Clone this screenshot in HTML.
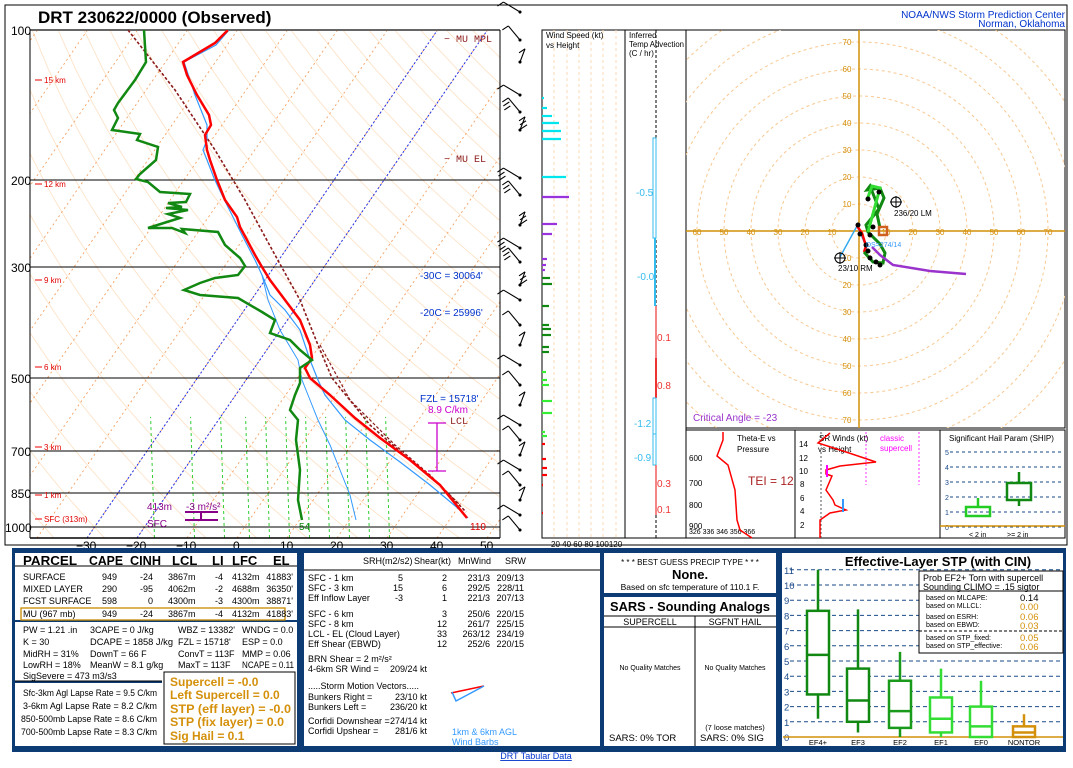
<!DOCTYPE html>
<html><head><meta charset="utf-8">
<style>
html,body{margin:0;padding:0;background:#fff;}
svg{display:block;font-family:"Liberation Sans",sans-serif;}
</style></head><body>
<svg id="s" width="1073" height="768" viewBox="0 0 1073 768" xmlns="http://www.w3.org/2000/svg">
<rect width="1073" height="768" fill="#fff"/>
<defs>
<clipPath id="cp"><rect x="30" y="30" width="470" height="508"/></clipPath>
<clipPath id="ch"><rect x="686" y="30" width="379" height="398"/></clipPath>
</defs>
<rect x="5" y="5" width="1062" height="540" fill="none" stroke="#000" stroke-width="1"/>
<g id="grid" clip-path="url(#cp)"></g>
<g stroke="#000" stroke-width="1">
<line x1="30" y1="30" x2="500" y2="30" stroke="#666" stroke-width="2"/>
<line x1="30" y1="180" x2="500" y2="180"/>
<line x1="30" y1="267" x2="500" y2="267"/>
<line x1="30" y1="378" x2="500" y2="378"/>
<line x1="30" y1="451" x2="500" y2="451"/>
<line x1="30" y1="493" x2="500" y2="493"/>
<line x1="30" y1="527" x2="500" y2="527"/>
<line x1="30" y1="30" x2="30" y2="538"/>
<line x1="500" y1="30" x2="500" y2="538"/>
<line x1="30" y1="538" x2="500" y2="538" stroke-width="1.5"/>
</g>
<g font-size="12" fill="#000">
<text x="11" y="35">100</text><text x="11" y="185">200</text><text x="11" y="272">300</text>
<text x="11" y="383">500</text><text x="11" y="456">700</text><text x="11" y="498">850</text>
<text x="5" y="532">1000</text>
<text x="76" y="550">−30</text><text x="126" y="550">−20</text><text x="176" y="550">−10</text>
<text x="233" y="550">0</text><text x="280" y="550">10</text><text x="330" y="550">20</text>
<text x="380" y="550">30</text><text x="430" y="550">40</text><text x="480" y="550">50</text>
</g>
<text x="38" y="23" font-size="17" font-weight="bold">DRT   230622/0000  (Observed)</text>
<text x="1065" y="18" font-size="10" fill="#0033cc" text-anchor="end">NOAA/NWS Storm Prediction Center</text>
<text x="1065" y="27" font-size="10" fill="#0033cc" text-anchor="end">Norman, Oklahoma</text>
<g font-size="8" fill="#e00000">
<line x1="35" y1="80" x2="42" y2="80" stroke="#e00"/><text x="44" y="83">15 km</text>
<line x1="35" y1="184" x2="42" y2="184" stroke="#e00"/><text x="44" y="187">12 km</text>
<line x1="35" y1="280" x2="42" y2="280" stroke="#e00"/><text x="44" y="283">9 km</text>
<line x1="35" y1="367" x2="42" y2="367" stroke="#e00"/><text x="44" y="370">6 km</text>
<line x1="35" y1="447" x2="42" y2="447" stroke="#e00"/><text x="44" y="450">3 km</text>
<line x1="35" y1="495" x2="42" y2="495" stroke="#e00"/><text x="44" y="498">1 km</text>
<line x1="35" y1="519" x2="42" y2="519" stroke="#e00"/><text x="44" y="522">SFC (313m)</text>
</g>
<g clip-path="url(#cp)">
<polyline fill="none" stroke="#8b1a1a" stroke-width="1.6" stroke-dasharray="3,2" points="128,30 175,90 215,150 245,200 275,255 300,300 318,345 332,378 370,425 410,460 440,485 466,512"/>
<polyline fill="none" stroke="#8b1a1a" stroke-width="1.2" stroke-dasharray="3,2" points="320,345 350,400 395,445 430,475 460,505"/>
<polyline fill="none" stroke="#3399ff" stroke-width="1.2" points="229,30 216,45 184,62 195,95 207,125 207,140 203,150 207,160 214,178 222,195 232,215 242,235 255,260 262,275 270,295 285,310 300,330 305,345 310,360 318,380 325,395 345,420 370,440 400,462 430,485 460,510 468,518"/>
<polyline fill="none" stroke="#3399ff" stroke-width="1" points="262,275 268,300 280,330 298,360 302,380 310,400 318,420 330,445 340,470 350,495 356,520"/>
<polyline fill="none" stroke="#ff0000" stroke-width="2.5" points="228,30 215,43 183,62 187,75 197,95 209,115 211,125 205,135 207,150 210,160 217,180 225,200 237,217 240,227 247,240 255,255 262,267 270,280 285,300 300,320 310,345 312,358 305,368 310,378 330,395 355,418 380,438 410,460 440,485 467,518"/>
<polyline fill="none" stroke="#118811" stroke-width="2.5" points="144,30 146,62 135,80 118,103 114,110 118,118 112,130 140,134 137,140 158,147 156,160 140,174 136,179 148,182 160,192 190,194 186,202 168,203 182,207 166,208 188,210 168,214 180,218 167,222 148,228 172,228 185,233 182,229 218,232 225,245 240,258 245,266 238,275 215,278 200,283 184,290 200,295 238,298 262,312 275,320 270,333 290,340 300,350 312,360 300,368 300,383 295,395 290,410 298,420 296,440 300,470 298,500 302,520"/>
</g>
<g font-size="10" fill="#0033cc">
<text x="420" y="279">-30C = 30064'</text>
<text x="420" y="316">-20C = 25996'</text>
<text x="420" y="402">FZL = 15718'</text>
</g>
<text x="428" y="413" font-size="10" fill="#cc00cc">8.9 C/km</text>
<g stroke="#cc00cc" stroke-width="1.3"><line x1="428" y1="423" x2="446" y2="423"/><line x1="437" y1="423" x2="437" y2="471"/><line x1="428" y1="471" x2="446" y2="471"/></g>
<g font-size="10" fill="#8b1a1a" font-family="Liberation Mono,monospace">
<text x="444" y="42">− MU MPL</text><text x="444" y="162">− MU EL</text><text x="450" y="424">LCL</text>
</g>
<text x="147" y="510" font-size="10" fill="#880088">413m</text>
<text x="186" y="510" font-size="10" fill="#880088">-3 m²/s²</text>
<g stroke="#880088" stroke-width="2"><line x1="185" y1="512" x2="218" y2="512"/><line x1="201" y1="512" x2="201" y2="520"/><line x1="185" y1="520" x2="218" y2="520"/></g>
<text x="147" y="527" font-size="10" fill="#880088">SFC</text>
<text x="299" y="530" font-size="10" fill="#118811">54</text>
<text x="470" y="530" font-size="10" fill="#e00000">110</text>
<g id="barbs" stroke="#000" stroke-width="1.1" fill="none"></g>
<rect x="542" y="30" width="83" height="508" fill="none" stroke="#000"/>
<g stroke="#fbd9b5" stroke-dasharray="3,3"><line x1="554" y1="30" x2="554" y2="538"/><line x1="567" y1="30" x2="567" y2="538"/><line x1="579" y1="30" x2="579" y2="538"/><line x1="591" y1="30" x2="591" y2="538"/><line x1="603" y1="30" x2="603" y2="538"/><line x1="616" y1="30" x2="616" y2="538"/></g>
<text x="546" y="38" font-size="8">Wind Speed (kt)</text><text x="546" y="48" font-size="8">vs Height</text>
<text x="551" y="547" font-size="8">20 40 60 80 100120</text>
<g id="bars" stroke-width="2.2"></g>
<rect x="625" y="30" width="61" height="508" fill="none" stroke="#000"/>
<line x1="656" y1="30" x2="656" y2="538" stroke="#000" stroke-dasharray="3,2"/>
<text x="629" y="38" font-size="8">Inferred</text><text x="629" y="47" font-size="8" textLength="55" lengthAdjust="spacingAndGlyphs">Temp Advection</text><text x="629" y="56" font-size="8">(C / hr)</text>
<rect x="653" y="138" width="3" height="100" fill="none" stroke="#33bbee"/>
<line x1="655" y1="238" x2="655" y2="306" stroke="#33bbee" stroke-width="2"/>
<line x1="656" y1="306" x2="656" y2="358" stroke="#e33" stroke-width="1.2"/>
<line x1="656" y1="358" x2="656" y2="398" stroke="#e33" stroke-width="2"/>
<rect x="653" y="398" width="3" height="36" fill="none" stroke="#33bbee"/>
<rect x="653" y="434" width="3" height="31" fill="none" stroke="#33bbee"/>
<line x1="656" y1="465" x2="656" y2="515" stroke="#e33" stroke-width="1.2"/>
<g font-size="10" fill="#33bbee"><text x="636" y="196">-0.5</text><text x="637" y="280">-0.0</text><text x="634" y="427">-1.2</text><text x="634" y="461">-0.9</text></g>
<g font-size="10" fill="#e33"><text x="657" y="341">0.1</text><text x="657" y="389">0.8</text><text x="657" y="487">0.3</text><text x="657" y="513">0.1</text></g>
<rect x="686" y="30" width="379" height="398" fill="none" stroke="#000"/>
<g id="hodo" clip-path="url(#ch)"></g>
<text x="693" y="421" font-size="10" fill="#9933cc">Critical Angle = -23</text>
<rect x="686" y="430" width="109" height="108" fill="none" stroke="#000"/>
<rect x="795" y="430" width="145" height="108" fill="none" stroke="#000"/>
<rect x="940" y="430" width="125" height="108" fill="none" stroke="#000"/>
<g font-size="8"><text x="737" y="441">Theta-E vs</text><text x="737" y="452">Pressure</text>
<text x="819" y="441">SR Winds (kt)</text><text x="818" y="452">vs Height</text>
<text x="949" y="441">Significant Hail Param (SHIP)</text>
<text x="689" y="461">600</text><text x="689" y="486">700</text><text x="689" y="508">800</text><text x="689" y="529">900</text>
<text x="689" y="534" font-size="7">326    336    346    356    366</text>
<text x="799" y="447">14</text><text x="799" y="461">12</text><text x="799" y="474">10</text><text x="800" y="487">8</text><text x="800" y="501">6</text><text x="800" y="514">4</text><text x="800" y="528">2</text></g>
<text x="748" y="485" font-size="12" fill="#aa2222">TEI = 12</text>
<text x="880" y="441" font-size="8" fill="#ff00ff">classic</text><text x="880" y="451" font-size="8" fill="#ff00ff">supercell</text>
<g stroke="#ff33ff" stroke-dasharray="2,2"><line x1="866" y1="432" x2="866" y2="485"/><line x1="919" y1="432" x2="919" y2="485"/></g>
<line x1="821" y1="432" x2="821" y2="538" stroke="#555" stroke-dasharray="2,2"/>
<polyline fill="none" stroke="#f00" stroke-width="1.5" points="723,432 723,440 717,456 728,465 735,490 737,520 740,530 752,538"/>
<polyline fill="none" stroke="#f00" stroke-width="1.5" points="830,433 818,443 840,450 876,462 840,466 826,470 826,474 832,476 826,490 833,500 835,505 846,510 830,513 820,520 820,538"/>
<line x1="827" y1="465" x2="827" y2="477" stroke="#ff00ff" stroke-width="2"/>
<line x1="843" y1="499" x2="843" y2="512" stroke="#3399ff" stroke-width="2"/>
<g stroke="#1a4a8a" stroke-dasharray="3,3"><line x1="950" y1="452" x2="1063" y2="452"/><line x1="950" y1="467" x2="1063" y2="467"/><line x1="950" y1="482" x2="1063" y2="482"/><line x1="950" y1="497" x2="1063" y2="497"/><line x1="950" y1="512" x2="1063" y2="512"/><line x1="950" y1="527" x2="1063" y2="527"/></g>
<g font-size="7" fill="#1a4a8a"><text x="945" y="455">5</text><text x="945" y="470">4</text><text x="945" y="485">3</text><text x="945" y="500">2</text><text x="945" y="515">1</text><text x="945" y="530">0</text></g>
<line x1="940" y1="526" x2="1065" y2="526" stroke="#d4900a" stroke-width="1.5"/>
<g fill="none" stroke="#22cc22" stroke-width="2.5"><rect x="966" y="507" width="24" height="9"/><line x1="978" y1="507" x2="978" y2="498"/></g>
<g fill="none" stroke="#118811" stroke-width="2.5"><rect x="1007" y="483" width="24" height="17"/><line x1="1019" y1="483" x2="1019" y2="472"/><line x1="1019" y1="500" x2="1019" y2="506"/></g>
<text x="969" y="537" font-size="7">&lt; 2 in</text><text x="1007" y="537" font-size="7">&gt;= 2 in</text>

<rect x="12" y="548" width="1054" height="204" fill="#0d3b73"/>
<rect x="15" y="553" width="282" height="67" fill="#fff"/>
<rect x="15" y="622" width="282" height="59" fill="#fff"/>
<rect x="15" y="683" width="147" height="63" fill="#fff"/>
<rect x="162" y="671" width="135" height="75" fill="#fff"/>
<rect x="304" y="553" width="296" height="193" fill="#fff"/>
<rect x="604" y="553" width="172" height="40" fill="#fff"/>
<rect x="604" y="597" width="172" height="149" fill="#fff"/>
<rect x="782" y="553" width="281" height="193" fill="#fff"/>
<line x1="15" y1="566" x2="297" y2="566" stroke="#000"/>
<line x1="15" y1="681" x2="162" y2="681" stroke="#000"/>
<rect x="164" y="672" width="131" height="72" fill="none" stroke="#000"/>
<rect x="21" y="608" width="264" height="12" fill="none" stroke="#c98a00" stroke-width="1.3"/>
<g font-size="13" font-weight="bold"><text x="23" y="565" textLength="54" lengthAdjust="spacingAndGlyphs">PARCEL</text><text x="89" y="565" textLength="34" lengthAdjust="spacingAndGlyphs">CAPE</text><text x="130" y="565" textLength="31" lengthAdjust="spacingAndGlyphs">CINH</text><text x="172" y="565">LCL</text><text x="212" y="565">LI</text><text x="232" y="565">LFC</text><text x="273" y="565">EL</text></g>
<g font-size="9">
<text x="23" y="580">SURFACE</text><text x="23" y="592">MIXED LAYER</text><text x="23" y="604">FCST SURFACE</text><text x="23" y="617">MU   (967 mb)</text>
<g text-anchor="end">
<text x="117" y="580">949</text><text x="117" y="592">290</text><text x="117" y="604">598</text><text x="117" y="617">949</text>
<text x="153" y="580">-24</text><text x="153" y="592">-95</text><text x="153" y="604">0</text><text x="153" y="617">-24</text>
<text x="223" y="580">-4</text><text x="223" y="592">-2</text><text x="223" y="604">-3</text><text x="223" y="617">-4</text>
<text x="293" y="580">41883'</text><text x="293" y="592">36350'</text><text x="293" y="604">38871'</text><text x="293" y="617">41883'</text>
</g>
<text x="168" y="580">3867m</text><text x="168" y="592">4062m</text><text x="168" y="604">4300m</text><text x="168" y="617">3867m</text>
<text x="232" y="580">4132m</text><text x="232" y="592">4688m</text><text x="232" y="604">4300m</text><text x="232" y="617">4132m</text>
<text x="23" y="633">PW = 1.21 .in</text><text x="90" y="633">3CAPE = 0 J/kg</text><text x="178" y="633">WBZ = 13382'</text><text x="242" y="633">WNDG = 0.0</text>
<text x="23" y="645">K = 30</text><text x="90" y="645" textLength="83" lengthAdjust="spacingAndGlyphs">DCAPE = 1858 J/kg</text><text x="178" y="645">FZL = 15718'</text><text x="242" y="645">ESP = 0.0</text>
<text x="23" y="657">MidRH = 31%</text><text x="90" y="657">DownT = 66 F</text><text x="178" y="657">ConvT = 113F</text><text x="242" y="657">MMP = 0.06</text>
<text x="23" y="668">LowRH = 18%</text><text x="90" y="668">MeanW = 8.1 g/kg</text><text x="178" y="668">MaxT = 113F</text><text x="242" y="668" textLength="52" lengthAdjust="spacingAndGlyphs">NCAPE = 0.11</text>
<text x="23" y="679">SigSevere = 473 m3/s3</text>
<text x="23" y="696" textLength="134" lengthAdjust="spacingAndGlyphs">Sfc-3km Agl Lapse Rate =  9.5 C/km</text>
<text x="23" y="709" textLength="134" lengthAdjust="spacingAndGlyphs">3-6km Agl Lapse Rate =    8.2 C/km</text>
<text x="21" y="722" textLength="136" lengthAdjust="spacingAndGlyphs">850-500mb Lapse Rate =   8.6 C/km</text>
<text x="21" y="735" textLength="136" lengthAdjust="spacingAndGlyphs">700-500mb Lapse Rate =   8.3 C/km</text>
</g>
<g font-size="12" font-weight="bold" fill="#d4900a">
<text x="170" y="686">Supercell = -0.0</text><text x="170" y="699">Left Supercell = 0.0</text><text x="170" y="713" textLength="121" lengthAdjust="spacingAndGlyphs">STP (eff layer) = -0.0</text><text x="170" y="726" textLength="114" lengthAdjust="spacingAndGlyphs">STP (fix layer) = 0.0</text><text x="170" y="740">Sig Hail = 0.1</text>
</g>
<line x1="304" y1="570" x2="600" y2="570" stroke="#000"/>
<g font-size="9">
<text x="363" y="564">SRH(m2/s2)</text><text x="414" y="564">Shear(kt)</text><text x="458" y="564">MnWind</text><text x="505" y="564">SRW</text>
<text x="308" y="581">SFC - 1 km</text><text x="308" y="591">SFC - 3 km</text><text x="308" y="601">Eff Inflow Layer</text>
<text x="308" y="617">SFC - 6 km</text><text x="308" y="627">SFC - 8 km</text><text x="308" y="637">LCL - EL (Cloud Layer)</text><text x="308" y="647">Eff Shear (EBWD)</text>
<g text-anchor="end">
<text x="403" y="581">5</text><text x="403" y="591">15</text><text x="403" y="601">-3</text>
<text x="447" y="581">2</text><text x="447" y="591">6</text><text x="447" y="601">1</text><text x="447" y="617">3</text><text x="447" y="627">12</text><text x="447" y="637">33</text><text x="447" y="647">12</text>
<text x="490" y="581">231/3</text><text x="490" y="591">292/5</text><text x="490" y="601">221/3</text><text x="490" y="617">250/6</text><text x="490" y="627">261/7</text><text x="490" y="637">263/12</text><text x="490" y="647">252/6</text>
<text x="524" y="581">209/13</text><text x="524" y="591">228/11</text><text x="524" y="601">207/13</text><text x="524" y="617">220/15</text><text x="524" y="627">225/15</text><text x="524" y="637">234/19</text><text x="524" y="647">220/15</text>
<text x="427" y="672">209/24 kt</text><text x="427" y="700">23/10 kt</text><text x="427" y="710">236/20 kt</text><text x="427" y="724">274/14 kt</text><text x="427" y="734">281/6 kt</text>
</g>
<text x="308" y="662">BRN Shear =  2 m²/s²</text><text x="308" y="672">4-6km SR Wind =</text>
<text x="308" y="689">.....Storm Motion Vectors.....</text>
<text x="308" y="700">Bunkers Right =</text><text x="308" y="710">Bunkers Left =</text>
<text x="308" y="724">Corfidi Downshear =</text><text x="308" y="734">Corfidi Upshear =</text>
</g>
<text x="452" y="735" font-size="9" fill="#3399ff">1km &amp; 6km AGL</text>
<text x="452" y="745" font-size="9" fill="#3399ff">Wind Barbs</text>
<polyline points="451,693 484,686" stroke="#f00" stroke-width="1.5" fill="none"/>
<polyline points="452,692 456,701 484,686" stroke="#3399ff" stroke-width="1.5" fill="none"/>
<g text-anchor="middle"><text x="690" y="565" font-size="8">* * * BEST GUESS PRECIP TYPE * * *</text>
<text x="690" y="579" font-size="13" font-weight="bold">None.</text>
<text x="690" y="590" font-size="8.5">Based on sfc temperature of 110.1 F.</text>
<text x="690" y="611" font-size="13" font-weight="bold" textLength="160" lengthAdjust="spacingAndGlyphs">SARS - Sounding Analogs</text>
<text x="650" y="625" font-size="9">SUPERCELL</text><text x="735" y="625" font-size="9">SGFNT HAIL</text>
<text x="650" y="670" font-size="7">No Quality Matches</text><text x="735" y="670" font-size="7">No Quality Matches</text>
<text x="735" y="730" font-size="7.5">(7 loose matches)</text></g>
<text x="609" y="741" font-size="9.5">SARS:  0% TOR</text><text x="700" y="741" font-size="9.5">SARS:  0% SIG</text>
<line x1="604" y1="616" x2="776" y2="616" stroke="#000"/><line x1="604" y1="627" x2="776" y2="627" stroke="#000"/>
<line x1="695" y1="616" x2="695" y2="746" stroke="#000"/>
<g id="stp"></g>
<text x="938" y="566" font-size="13" font-weight="bold" text-anchor="middle">Effective-Layer STP (with CIN)</text>
<rect x="919" y="571" width="144" height="82" fill="#fff" stroke="#000"/>
<line x1="919" y1="591" x2="1063" y2="591" stroke="#000"/>
<line x1="919" y1="631" x2="1063" y2="631" stroke="#000" stroke-dasharray="3,2"/>
<g font-size="9"><text x="923" y="581">Prob EF2+ Torn with supercell</text><text x="923" y="590">Sounding CLIMO = .15 sigtor</text></g>
<g font-size="7"><text x="926" y="600">based on MLCAPE:</text><text x="926" y="608">based on MLLCL:</text><text x="926" y="619">based on ESRH:</text><text x="926" y="627">based on EBWD:</text><text x="926" y="640">based on STP_fixed:</text><text x="926" y="648">based on STP_effective:</text></g>
<g font-size="9.5"><text x="1020" y="601">0.14</text><g fill="#d4900a"><text x="1020" y="610">0.00</text><text x="1020" y="620">0.06</text><text x="1020" y="629">0.03</text><text x="1020" y="641">0.05</text><text x="1020" y="650">0.06</text></g></g>
<text x="536" y="759" font-size="9" fill="#0033cc" text-anchor="middle" text-decoration="underline">DRT Tabular Data</text>
</svg>
<script>
var NS="http://www.w3.org/2000/svg";
function el(p,t,a){var e=document.createElementNS(NS,t);for(var k in a)e.setAttribute(k,a[k]);p.appendChild(e);return e;}
var g=document.getElementById('grid');
function Y(p){return 30+215.9*Math.log(p/100);}
function X(T,y){return 237+5*T+(538-y)*0.69;}
for(var th=-40;th<=220;th+=10){var pts=[];for(var p=100;p<=1060;p+=20){var y=Y(p);var T=(th+273.15)*Math.pow(p/1000,0.286)-273.15;pts.push(X(T,y).toFixed(1)+","+y.toFixed(1));}
el(g,'polyline',{points:pts.join(' '),fill:'none',stroke:'#fde3c8','stroke-width':0.9});}
for(var T=-160;T<=60;T+=10){el(g,'line',{x1:X(T,538),y1:538,x2:X(T,30),y2:30,stroke:'#f5a060','stroke-dasharray':'2,3','stroke-width':0.9});}
[-30,-20].forEach(function(T){el(g,'line',{x1:X(T,538),y1:538,x2:X(T,30),y2:30,stroke:'#2233ee','stroke-dasharray':'2,2','stroke-width':1});});
[-20,-12,-6,-1,3,7,11,15,19,23,27].forEach(function(T){var y1=Y(1000),y2=Y(600);el(g,'line',{x1:X(T,y1)+10,y1:538,x2:X(T-14,y2),y2:y2,stroke:'#33cc33','stroke-dasharray':'3,3','stroke-width':1});});
var b=document.getElementById('barbs');
var by=[12,40,62,95,112,130,178,195,225,248,262,285,300,325,345,365,385,405,425,440,455,470,485,500,515,530];
by.forEach(function(y,i){var a=(i%3==0)?-0.9:(i%3==1?-0.5:0.6);var x0=520,y0=y;var x1=x0+16*Math.sin(a)-4,y1=y0-16*Math.cos(a);
el(b,'line',{x1:x0,y1:y0,x2:x1,y2:y1});el(b,'line',{x1:x1,y1:y1,x2:x1-6,y2:y1+4});if(i>3&&i<12){el(b,'line',{x1:x1+1,y1:y1+4,x2:x1-5,y2:y1+8});el(b,'line',{x1:x1+2,y1:y1+8,x2:x1-4,y2:y1+12});}
el(b,'circle',{cx:x0,cy:y0,r:1,fill:'#000'});});
var bars=document.getElementById('bars');
var bd=[[98,2,'#00e5ee'],[108,5,'#00e5ee'],[116,10,'#00e5ee'],[123,17,'#00e5ee'],[131,19,'#00e5ee'],[139,19,'#00e5ee'],[177,24,'#00e5ee'],
[197,27,'#9933dd'],[224,15,'#9933dd'],[234,10,'#9933dd'],[259,5,'#9933dd'],[265,4,'#9933dd'],[270,3,'#9933dd'],
[278,8,'#118811'],[284,10,'#118811'],[306,7,'#118811'],[325,7,'#118811'],[329,9,'#118811'],[335,9,'#118811'],[347,7,'#118811'],[352,7,'#118811'],
[372,4,'#33ee33'],[380,5,'#33ee33'],[385,7,'#33ee33'],[401,10,'#33ee33'],[413,10,'#33ee33'],[432,3,'#33ee33'],[436,5,'#33ee33'],
[444,3,'#f00'],[459,4,'#f00'],[468,5,'#f00'],[475,5,'#f00'],[485,1,'#f00'],[513,1,'#f00']];
bd.forEach(function(d){el(bars,'line',{x1:542,y1:d[0],x2:542+d[1],y2:d[0],stroke:d[2]});});
var h=document.getElementById('hodo');var cx=859,cy=231,s=2.7;
for(var r=10;r<=90;r+=10)el(h,'circle',{cx:cx,cy:cy,r:r*s,fill:'none',stroke:'#f8c890','stroke-dasharray':'3,3'});
el(h,'line',{x1:686,y1:cy,x2:1065,y2:cy,stroke:'#d4900a','stroke-width':1.5});
el(h,'line',{x1:cx,y1:30,x2:cx,y2:428,stroke:'#d4900a','stroke-width':1.5});
for(var r=10;r<=70;r+=10){[[cx-r*s,cy+4],[cx+r*s,cy+4],[cx-12,cy-r*s+3],[cx-12,cy+r*s+3]].forEach(function(q){var t=el(h,'text',{x:q[0],y:q[1],'font-size':8,fill:'#d4900a','text-anchor':'middle'});t.textContent=r;});}
function P(pts,c,w){el(h,'polyline',{points:pts,fill:'none',stroke:c,'stroke-width':w});}
P("840,257 857,226 866,246 867,252","#33aaee",1.5);
P("857,226 862,233 866,246 864,252","#f00",2.5);
P("864,252 873,262 883,263 885,253 880,244 868,232 866,225 879,209 870,186 867,190 880,188 884,198 877,214 880,228","#118811",3);
P("868,232 880,188 872,186 867,200","#33dd33",3);
P("872,247 880,255 893,265 930,271 966,274","#9933cc",2.5);
[[858,225],[860,234],[870,235],[866,245],[868,251],[870,258],[876,262],[880,265],[868,199],[879,192],[873,227]].forEach(function(q){el(h,'circle',{cx:q[0],cy:q[1],r:2.5,fill:'#000'});});
el(h,'rect',{x:879,y:227,width:8,height:8,fill:'none',stroke:'#d06020','stroke-width':2.5});
el(h,'circle',{cx:896,cy:202,r:5,fill:'none',stroke:'#000'});el(h,'line',{x1:890,y1:202,x2:902,y2:202,stroke:'#000'});el(h,'line',{x1:896,y1:196,x2:896,y2:208,stroke:'#000'});
el(h,'circle',{cx:840,cy:258,r:5,fill:'none',stroke:'#000'});el(h,'line',{x1:834,y1:258,x2:846,y2:258,stroke:'#000'});el(h,'line',{x1:840,y1:252,x2:840,y2:264,stroke:'#000'});
var t=el(h,'text',{x:894,y:216,'font-size':8});t.textContent="236/20 LM";
t=el(h,'text',{x:838,y:271,'font-size':8});t.textContent="23/10 RM";
t=el(h,'text',{x:866,y:247,'font-size':7,fill:'#3399ff'});t.textContent="DS=274/14";
var st=document.getElementById('stp');function SY(v){return 737-15.2*v;}
for(var v=0;v<=11;v++){if(v>0)el(st,'line',{x1:790,y1:SY(v),x2:1060,y2:SY(v),stroke:'#1a4a8a','stroke-dasharray':'4,3'});var tt=el(st,'text',{x:784,y:SY(v)+4,'font-size':9.5,fill:'#1a4a8a'});tt.textContent=v;}
el(st,'line',{x1:783,y1:SY(0),x2:1063,y2:SY(0),stroke:'#d4900a','stroke-width':1.5});
var bx=[[818,1.2,11,2.8,8.3,5.4,'#118811','EF4+'],[858,0.3,8.4,1.0,4.5,2.4,'#118811','EF3'],[900,0,5.6,0.6,3.7,1.7,'#1a9a1a','EF2'],[941,0,4.5,0.3,2.6,1.2,'#33dd33','EF1'],[981,0,3.7,0,2.0,0.7,'#33dd33','EF0'],[1024,0,1.5,0,0.7,0.3,'#d4900a','NONTOR']];
bx.forEach(function(d){var c=d[6];el(st,'line',{x1:d[0],y1:SY(d[1]),x2:d[0],y2:SY(d[2]),stroke:c,'stroke-width':2.5});
el(st,'rect',{x:d[0]-11,y:SY(d[4]),width:22,height:SY(d[3])-SY(d[4]),fill:'#fff',stroke:c,'stroke-width':2.5});
el(st,'line',{x1:d[0]-11,y1:SY(d[5]),x2:d[0]+11,y2:SY(d[5]),stroke:c,'stroke-width':2.5});
var tt=el(st,'text',{x:d[0],y:745,'font-size':7.5,'text-anchor':'middle'});tt.textContent=d[7];});
</script>
</body></html>
